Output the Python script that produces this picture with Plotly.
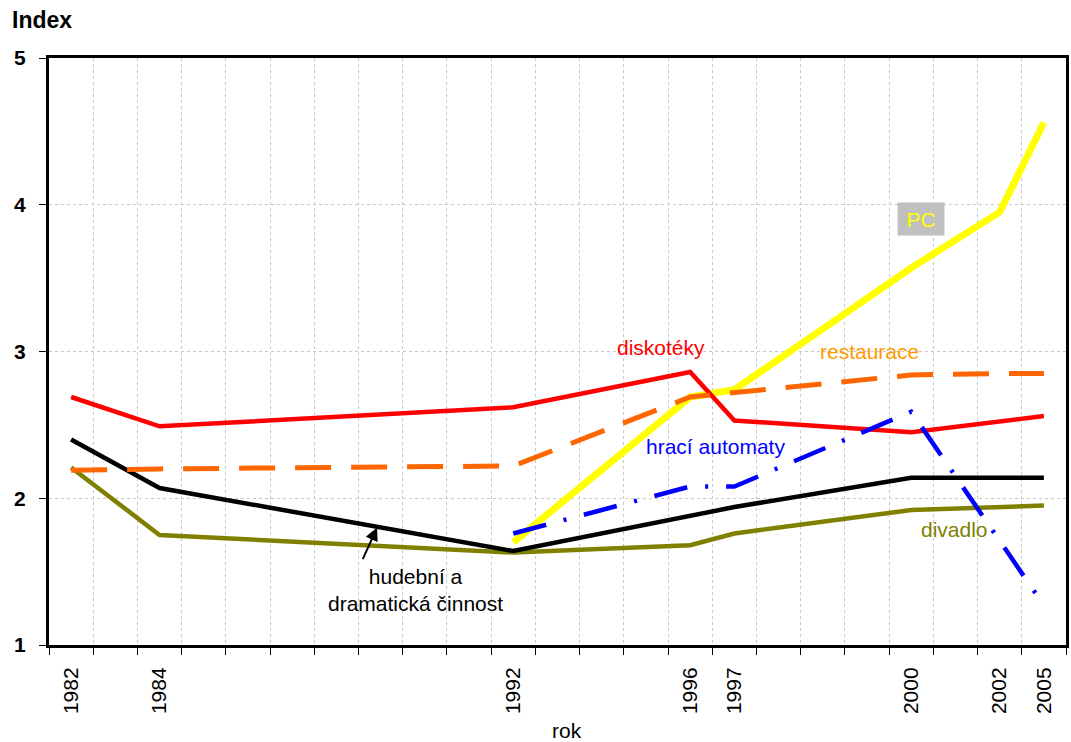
import plotly.graph_objects as go

# ---- data ----
years = ["1982", "1984", "1992", "1996", "1997", "2000", "2002", "2005"]
slots = [0, 2, 10, 14, 15, 19, 21, 22]          # category slot of each year (23 slots on the axis)
n_slots = 23

divadlo = [2.21, 1.75, 1.63, 1.68, 1.76, 1.92, None, 1.95]
hudebni = [2.40, 2.07, 1.64, 1.88, 1.94, 2.14, 2.14, 2.14]
pc = [None, None, 1.70, 2.69, 2.74, 3.57, 3.95, 4.56]
diskoteky = [2.69, 2.49, 2.62, 2.86, 2.53, 2.45, None, 2.56]
restaurace = [2.19, 2.20, 2.22, 2.69, 2.72, 2.84, 2.85, 2.85]
automaty = [None, None, 1.76, 2.08, 2.08, 2.59, None, 1.27]

y_ticks = [1, 2, 3, 4, 5]

FONT = "Arial, Liberation Sans, sans-serif"

fig = go.Figure()

def add(vals, color, width, dash="solid", name=""):
    fig.add_trace(go.Scatter(x=slots, y=vals, mode="lines", name=name,
                             connectgaps=True,
                             line=dict(color=color, width=width, dash=dash),
                             hoverinfo="skip", showlegend=False))

add(divadlo, "#808000", 4.5, name="divadlo")
add(hudebni, "#000000", 4.5, name="hudební a dramatická činnost")
add(pc, "#FFFF00", 7, name="PC")
add(diskoteky, "#FF0000", 4.5, name="diskotéky")
add(restaurace, "#FF6600", 5, dash="36px,20px", name="restaurace")
add(automaty, "#0000FF", 4.5, dash="34px,18px,3px,18px", name="hrací automaty")

# ---- labels ----
def label(x, y, text, color, size=21, **kw):
    fig.add_annotation(x=x, y=y, xref="x", yref="y", text=text, showarrow=False,
                       font=dict(family=FONT, size=size, color=color), **kw)

label(13.33, 3.03, "diskotéky", "#FF0000")
label(18.06, 3.00, "restaurace", "#FF9900")
label(14.57, 2.35, "hrací automaty", "#0000FF")
label(19.98, 1.79, "divadlo", "#808000")
label(19.22, 3.90, "PC", "#FFFF00", bgcolor="#C0C0C0", width=44, height=30)
label(7.78, 1.375, "hudební a<br>dramatická činnost", "#000000")

# arrow to the black line
fig.add_annotation(x=6.92, y=1.80, xref="x", yref="y", text="", showarrow=True,
                   ax=-15, ay=33, arrowhead=2, arrowsize=1.3, arrowwidth=2,
                   arrowcolor="#000000")

fig.add_annotation(x=-0.038, y=1.065, xref="paper", yref="paper", text="<b>Index</b>",
                   showarrow=False, xanchor="left", yanchor="middle",
                   font=dict(family=FONT, size=23, color="#000000"))
fig.add_annotation(x=0.509, y=-0.145, xref="paper", yref="paper", text="rok",
                   showarrow=False, xanchor="center", yanchor="middle",
                   font=dict(family=FONT, size=21, color="#000000"))

fig.update_layout(
    width=1071, height=742,
    margin=dict(l=49, r=2, t=58, b=97),
    paper_bgcolor="white", plot_bgcolor="white",
    font=dict(family=FONT, size=20, color="#000000"),
    showlegend=False,
)

fig.update_xaxes(
    range=[-0.5, n_slots - 0.5],
    tickmode="array", tickvals=slots, ticktext=years, tickangle=-90,
    ticks="outside", ticklen=6, tickcolor="rgba(0,0,0,0)",
    ticklabelstandoff=5,
    tickfont=dict(family=FONT, size=21, color="#000000"),
    showgrid=False, zeroline=False,
    showline=True, linecolor="#000000", linewidth=3, mirror=True,
    minor=dict(tickmode="linear", tick0=-0.5, dtick=1, ticks="outside", ticklen=7,
               tickcolor="#000000", tickwidth=1, showgrid=True,
               gridcolor="#C8C8C8", griddash="dot", gridwidth=1),
)
fig.update_yaxes(
    range=[1, 5], tickmode="array", tickvals=y_ticks,
    ticktext=[f"<b>{v}</b>" for v in y_ticks],
    ticks="outside", ticklen=7, tickcolor="#000000",
    ticklabelstandoff=9,
    tickfont=dict(family=FONT, size=21, color="#000000"),
    showgrid=True, gridcolor="#C8C8C8", griddash="dot", gridwidth=1,
    zeroline=False,
    showline=True, linecolor="#000000", linewidth=3, mirror=True,
)

fig.write_html("out.html", config={"displayModeBar": False},
               post_script="document.body.style.margin='0';document.body.style.overflow='hidden';")
